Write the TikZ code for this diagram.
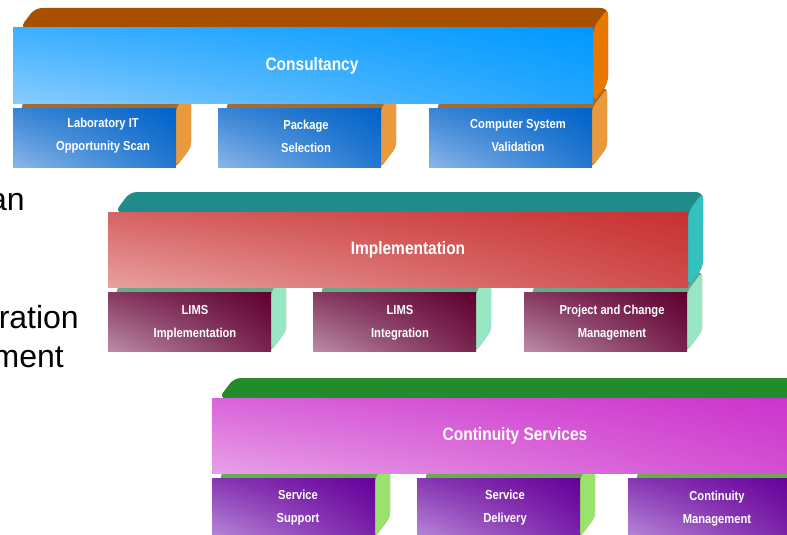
\documentclass[tikz,border=0pt]{standalone}
\usepackage{fontspec}
\setmainfont{Liberation Sans}
\newfontfamily\narrowfont{Liberation Sans}[FakeStretch=0.86]
\usetikzlibrary{shadings}

\definecolor{consSlab}{HTML}{A85000}
\definecolor{consSide}{HTML}{E87800}
\definecolor{consDark}{HTML}{0099FF}
\definecolor{consLight}{HTML}{88CCFF}
\definecolor{consSubSlab}{HTML}{A86A2A}
\definecolor{consSubSide}{HTML}{E89A3C}
\definecolor{consSubDark}{HTML}{0062C8}
\definecolor{consSubLight}{HTML}{8AB6E8}

\definecolor{implSlab}{HTML}{218B8B}
\definecolor{implSide}{HTML}{35C0C0}
\definecolor{implDark}{HTML}{C83030}
\definecolor{implLight}{HTML}{E8A0A0}
\definecolor{implSubSlab}{HTML}{6AA88C}
\definecolor{implSubSide}{HTML}{99E6C4}
\definecolor{implSubDark}{HTML}{600030}
\definecolor{implSubLight}{HTML}{BC8CA8}

\definecolor{contSlab}{HTML}{228B2B}
\definecolor{contSide}{HTML}{55B040}
\definecolor{contDark}{HTML}{CC33CC}
\definecolor{contLight}{HTML}{E8A0E8}
\definecolor{contSubSlab}{HTML}{6AAA50}
\definecolor{contSubSide}{HTML}{99E26C}
\definecolor{contSubDark}{HTML}{660099}
\definecolor{contSubLight}{HTML}{B888D8}

\tikzset{
  bartext/.style={text=white, inner sep=0pt, font=\narrowfont\bfseries\fontsize{18}{20}\selectfont},
  boxtext/.style={text=white, inner sep=0pt, align=center, font=\narrowfont\bfseries\fontsize{13}{23}\selectfont},
  cuttext/.style={anchor=base east, inner sep=0pt, font=\fontsize{32}{36}\selectfont},
}

\begin{document}
\begin{tikzpicture}[x=1pt,y=-1pt]
    \clip (0,0) rectangle (787,535);
    \foreach \x/\y/\slab/\side/\darkc/\lightc/\subslab/\subside/\subdark/\sublight in {
        13/28/consSlab/consSide/consDark/consLight/consSubSlab/consSubSide/consSubDark/consSubLight,
        108/212/implSlab/implSide/implDark/implLight/implSubSlab/implSubSide/implSubDark/implSubLight,
        212/398/contSlab/contSide/contDark/contLight/contSubSlab/contSubSide/contSubDark/contSubLight} {
      \foreach \dx in {0,205,416} {
        \fill[\subslab, rounded corners=4pt] (\x+\dx+7,\y+80) -- (\x+\dx+22,\y+60) -- (\x+\dx+178,\y+60)
          -- (\x+\dx+178,\y+119) -- (\x+\dx+163,\y+139) -- cycle;
        \fill[\subside, rounded corners=5pt] (\x+\dx+163,\y+80) -- (\x+\dx+178,\y+60)
          -- (\x+\dx+178,\y+119) -- (\x+\dx+163,\y+139) -- cycle;
      }
      \fill[\slab, rounded corners=7pt] (\x+7,\y) -- (\x+22,\y-20) -- (\x+595,\y-20)
        -- (\x+595,\y+55) -- (\x+580,\y+75) -- cycle;
      \fill[\side, rounded corners=7pt] (\x+580,\y) -- (\x+595,\y-20)
        -- (\x+595,\y+55) -- (\x+580,\y+75) -- cycle;
      \shade[upper right=\darkc, lower left=\lightc, upper left=\darkc!55!\lightc, lower right=\darkc!75!\lightc]
        (\x,\y) rectangle ++(580,75);
      \foreach \dx in {0,205,416}
        \shade[upper right=\subdark, lower left=\sublight, upper left=\subdark!60!\sublight, lower right=\subdark!75!\sublight]
          (\x+\dx,\y+80) rectangle ++(163,59);
    }

    \node[bartext] (cons) at (312,65.5) {Consultancy};
    \node[boxtext] (labscan) at (103,136) {Laboratory IT\\Opportunity Scan};
    \node[boxtext] (pkgsel) at (306,136) {Package\\Selection};
    \node[boxtext] (csv) at (518,136) {Computer System\\Validation};

    \node[bartext] (impl) at (408,250) {Implementation};
    \node[boxtext] (limsimpl) at (195,323) {LIMS\\Implementation};
    \node[boxtext] (limsint) at (400,323) {LIMS\\Integration};
    \node[boxtext] (projchange) at (612,323) {Project and Change\\Management};

    \node[bartext] (cont) at (515,435.5) {Continuity Services};
    \node[boxtext] (servsupp) at (298,508) {Service\\Support};
    \node[boxtext] (servdel) at (505,508) {Service\\Delivery};
    \node[boxtext] (contmgmt) at (717,509) {Continuity\\Management};

    \node[cuttext] (an) at (25,210) {an};
    \node[cuttext] (ration) at (79,328) {ration};
    \node[cuttext] (ment) at (64,367) {ment};
\end{tikzpicture}
\end{document}
